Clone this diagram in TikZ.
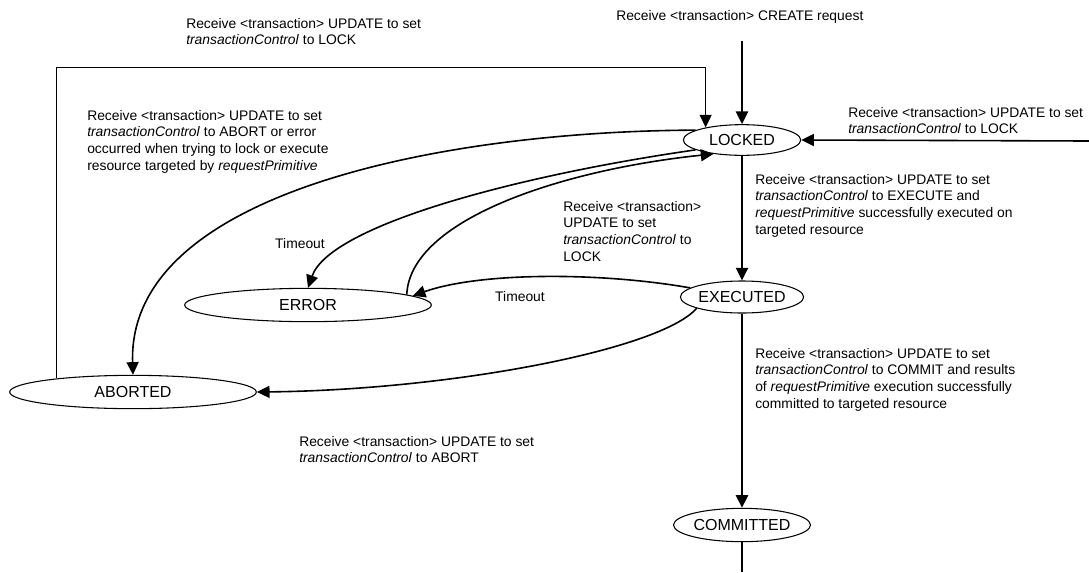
\documentclass[tikz,border=0pt]{standalone}
\usepackage{fontspec}
\setmainfont{Liberation Sans}
\usetikzlibrary{shapes.geometric,arrows.meta,positioning,calc}

\begin{document}
\begin{tikzpicture}[
  x=0.75pt, y=-0.75pt,
  font=\fontsize{10.4}{12.5}\selectfont,
  st/.style={draw, ellipse, line width=0.8pt, inner sep=0pt,
             font=\fontsize{12}{14}\selectfont},
  lbl/.style={anchor=north west, inner sep=0pt, align=left},
  arr/.style={-{Triangle[length=9.5pt, width=9pt]}},
  trunk/.style={arr, line width=1.8pt},
  flow/.style={arr, line width=1.2pt}
]
\useasboundingbox (0,0) rectangle (1089,572);

% --- states ---
\node[st, minimum width=88pt, minimum height=23pt] (locked) at (742,140) {LOCKED};
\node[st, minimum width=89pt, minimum height=24pt] (executed) at (742,297) {EXECUTED};
\node[st, minimum width=99pt, minimum height=25pt] (committed) at (742,525) {COMMITTED};
\node[st, minimum width=185pt, minimum height=25pt] (error) at (308,305) {ERROR};
\node[st, minimum width=185pt, minimum height=25pt] (aborted) at (133,392) {ABORTED};

% --- free ends ---
\coordinate (create) at (742,41);
\coordinate (lockin) at (1089,141);
\coordinate (commitout) at (742,572);
\coordinate (lockloop) at ($(aborted.170.5) + (0,-311)$);

% --- main line ---
\draw[trunk] (create) -- (locked.north);
\draw[trunk] (locked.south) -- (executed.north);
\draw[trunk] (executed.south) -- (committed.north);
\draw[line width=0.9pt] (committed.south) -- (commitout);

% --- back to LOCKED ---
\draw[flow] (lockin) -- (locked.east);
\draw[arr, line width=0.9pt] (aborted.170.5) -- (lockloop) -| (locked.161);
\draw[flow] (error.6) .. controls (410,220) and (560,170) .. (locked.206);

% --- out of LOCKED ---
\draw[flow] (locked.168) .. controls (450,131) and (127,190) .. (aborted.north);
\draw[flow] (locked.192) .. controls (520,175) and (330,225) .. (error.north);

% --- out of EXECUTED ---
\draw[flow] (executed.170) .. controls (600,272) and (480,272) .. (error.5);
\draw[flow] (executed.194) .. controls (660,350) and (450,390) .. (aborted.east);

% --- labels ---
\node[lbl] (lockback) at (186,18)
  {Receive <transaction> UPDATE to set\\\textit{transactionControl} to LOCK};
\node[lbl] (createlbl) at (616,10) {Receive <transaction> CREATE request};
\node[lbl] (lockright) at (848,107)
  {Receive <transaction> UPDATE to set\\\textit{transactionControl} to LOCK};
\node[lbl] (abortor) at (87,110)
  {Receive <transaction> UPDATE to set\\
   \textit{transactionControl} to ABORT or error\\
   occurred when trying to lock or execute\\
   resource targeted by \textit{requestPrimitive}};
\node[lbl] (execlbl) at (755,174)
  {Receive <transaction> UPDATE to set\\
   \textit{transactionControl} to EXECUTE and\\
   \textit{requestPrimitive} successfully executed on\\
   targeted resource};
\node[lbl] (relock) at (563,201)
  {Receive <transaction>\\UPDATE to set\\\textit{transactionControl} to\\LOCK};
\node[inner sep=0pt] (timeout1) at (300,244) {Timeout};
\node[inner sep=0pt] (timeout2) at (520,297) {Timeout};
\node[lbl] (commitlbl) at (755,348)
  {Receive <transaction> UPDATE to set\\
   \textit{transactionControl} to COMMIT and results\\
   of \textit{requestPrimitive} execution successfully\\
   committed to targeted resource};
\node[lbl] (abortlbl) at (299,436)
  {Receive <transaction> UPDATE to set\\\textit{transactionControl} to ABORT};

\end{tikzpicture}
\end{document}
